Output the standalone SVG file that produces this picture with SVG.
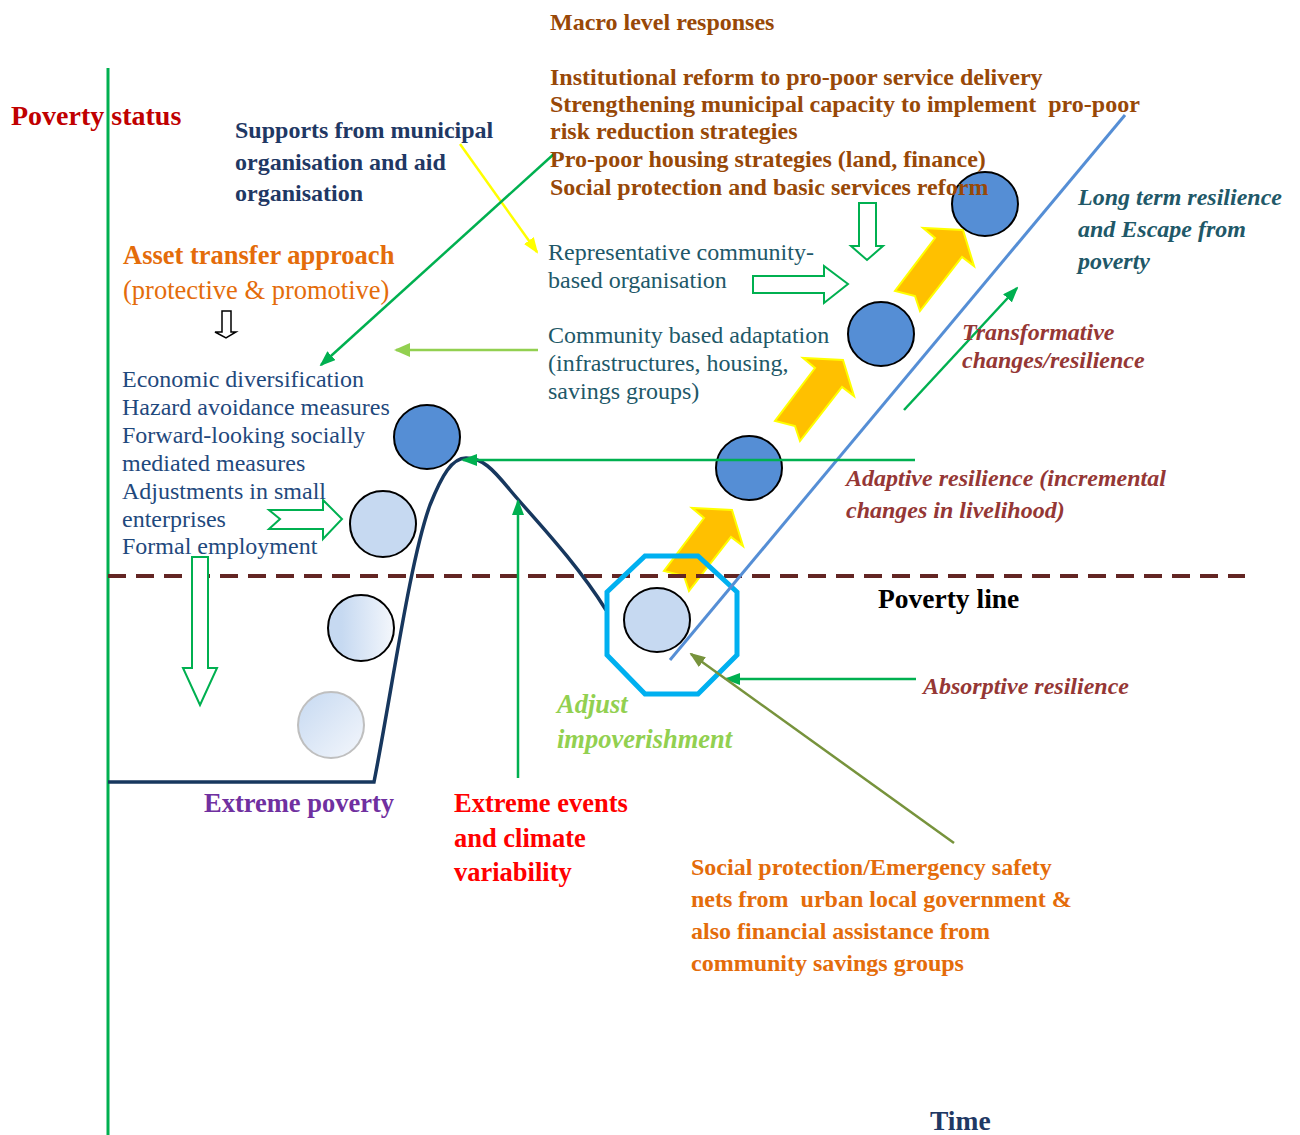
<svg xmlns="http://www.w3.org/2000/svg" width="1300" height="1135" viewBox="0 0 1300 1135">
  <style>
    text { font-family: "Liberation Serif", "Times New Roman", serif; }
    .b { font-weight: bold; }
    .bi { font-weight: bold; font-style: italic; }
    .s24 { font-size: 24px; }
    .s26 { font-size: 26.5px; }
    .macro { fill: #984807; }
    .navy { fill: #1F3864; }
    .orange { fill: #E46C0A; }
    .list { fill: #1F497D; }
    .teal { fill: #215868; }
    .maroon { fill: #953735; }
    .ball { stroke: #000; stroke-width: 2; }
    .dark { fill: #558ED5; }
    .light { fill: #C6D9F1; }
    .hollow { fill: #fff; stroke: #00B050; stroke-width: 2; stroke-linejoin: miter; }
    .con { fill: none; stroke-width: 2.5; }
    .g { stroke: #00B050; }
  </style>
  <defs>
    <linearGradient id="fadeH" x1="0" y1="0" x2="1" y2="0">
      <stop offset="0.2" stop-color="#C6D9F1"/>
      <stop offset="1" stop-color="#F4F7FC"/>
    </linearGradient>
    <linearGradient id="fadeD" x1="0" y1="0" x2="1" y2="1">
      <stop offset="0" stop-color="#C6D9F1"/>
      <stop offset="1" stop-color="#F4F7FC"/>
    </linearGradient>
    <path id="stepArrow" d="M0,0 L11,36 L-1,27 L-43,81 L-48,66 L-68,61 L-28,8 L-40,-2 Z" fill="#FFC000" stroke="#FFFF00" stroke-width="2" stroke-linejoin="miter"/>
    <marker id="mGreen" viewBox="0 0 16 12" refX="14" refY="6" markerWidth="16" markerHeight="12" markerUnits="userSpaceOnUse" orient="auto">
      <path d="M0,0 L16,6 L0,12 Z" fill="#00B050"/>
    </marker>
    <marker id="mLime" viewBox="0 0 16 14" refX="14" refY="7" markerWidth="16" markerHeight="14" markerUnits="userSpaceOnUse" orient="auto">
      <path d="M0,0 L16,7 L0,14 Z" fill="#92D050"/>
    </marker>
    <marker id="mYellow" viewBox="0 0 16 12" refX="14" refY="6" markerWidth="16" markerHeight="12" markerUnits="userSpaceOnUse" orient="auto">
      <path d="M0,0 L16,6 L0,12 Z" fill="#FFFF00"/>
    </marker>
    <marker id="mOlive" viewBox="0 0 16 12" refX="14" refY="6" markerWidth="16" markerHeight="12" markerUnits="userSpaceOnUse" orient="auto">
      <path d="M0,0 L16,6 L0,12 Z" fill="#77933C"/>
    </marker>
  </defs>

  <rect width="1300" height="1135" fill="#fff"/>

  <!-- poverty status axis -->
  <line x1="108" y1="68" x2="108" y2="1135" stroke="#00B050" stroke-width="3"/>

  <!-- progress steps towards resilience -->
  <g id="steps">
    <use href="#stepArrow" transform="translate(732,510)"/>
    <use href="#stepArrow" transform="translate(843,360)"/>
    <use href="#stepArrow" transform="translate(963,230)"/>
  </g>

  <!-- poverty line -->
  <line x1="108" y1="576" x2="1245" y2="576" stroke="#632523" stroke-width="4" stroke-dasharray="18 10"/>

  <!-- poverty trajectory -->
  <path id="trajectory" d="M108,782 H374 C392,690 410,560 430,505 C442,475 452,458 466,458 C482,458 492,468 510,490 S575,560 606,610" fill="none" stroke="#17375E" stroke-width="3.5"/>

  <!-- resilience pathway -->
  <g id="absorptive-zone">
    <polygon points="645,556 698,556 737,592 737,655 698,694 645,694 607,655 607,592" fill="none" stroke="#00B0F0" stroke-width="5"/>
  </g>
  <line id="pathway" x1="670" y1="660" x2="1125" y2="115" stroke="#558ED5" stroke-width="3"/>

  <!-- household states -->
  <g id="state-peak"><ellipse class="ball dark" cx="427" cy="437" rx="33" ry="32"/></g>
  <g id="state-above"><circle class="ball light" cx="383" cy="524" r="33"/></g>
  <g id="state-below"><circle class="ball" cx="361" cy="628" r="33" fill="url(#fadeH)"/></g>
  <g id="state-extreme"><circle cx="331" cy="725" r="33" fill="url(#fadeD)" stroke="#BFBFBF" stroke-width="2"/></g>
  <g id="state-shock"><ellipse class="ball light" cx="657" cy="620" rx="33" ry="32"/></g>
  <g id="state-adaptive"><ellipse class="ball dark" cx="749" cy="468" rx="33" ry="32"/></g>
  <g id="state-transform"><ellipse class="ball dark" cx="881" cy="334" rx="33" ry="32"/></g>
  <g id="state-escape"><ellipse class="ball dark" cx="985" cy="204" rx="33" ry="32"/></g>

  <!-- block arrows -->
  <g id="block-arrows">
    <polygon class="hollow" points="859,203 876,203 876,246 883,246 867,260 851,246 859,246"/>
    <polygon class="hollow" points="753,276 824,276 824,266 848,284 824,303 824,293 753,293"/>
    <polygon class="hollow" points="269,510 323,510 323,500 342,519 323,539 323,529 269,529 280,519"/>
    <polygon class="hollow" points="192,557 208,557 208,668 217,668 200,705 183,668 192,668"/>
    <polygon points="222,311 231,311 231,332 236,332 226,338 215,332 222,332" fill="#fff" stroke="#000" stroke-width="1.5"/>
  </g>

  <!-- connectors -->
  <g id="connectors">
    <line class="con" x1="460" y1="144" x2="537" y2="252" stroke="#FFFF00" stroke-width="2" marker-end="url(#mYellow)"/>
    <line class="con g" x1="555" y1="153" x2="321" y2="365" marker-end="url(#mGreen)"/>
    <line class="con" x1="538" y1="350" x2="396" y2="350" stroke="#92D050" stroke-width="3" marker-end="url(#mLime)"/>
    <line class="con g" x1="915" y1="460" x2="463" y2="460" marker-end="url(#mGreen)"/>
    <line class="con g" x1="518" y1="778" x2="518" y2="501" marker-end="url(#mGreen)"/>
    <line class="con g" x1="904" y1="410" x2="1017" y2="288" marker-end="url(#mGreen)"/>
    <line class="con g" x1="916" y1="679" x2="726" y2="679" marker-end="url(#mGreen)"/>
    <line class="con" x1="954" y1="843" x2="691" y2="654" stroke="#77933C" marker-end="url(#mOlive)"/>
  </g>

  <!-- labels -->
  <g id="axis-label">
    <text class="b" x="11" y="125" font-size="28" fill="#C00000">Poverty status</text>
  </g>
  <g id="macro-responses">
    <text class="b s24 macro" x="550" y="30">Macro level responses</text>
    <text class="b s24 macro" x="550" y="85">Institutional reform to pro-poor service delivery</text>
    <text class="b s24 macro" x="550" y="112" xml:space="preserve">Strengthening municipal capacity to implement  pro-poor</text>
    <text class="b s24 macro" x="550" y="139">risk reduction strategies</text>
    <text class="b s24 macro" x="550" y="167">Pro-poor housing strategies (land, finance)</text>
    <text class="b s24 macro" x="550" y="195">Social protection and basic services reform</text>
  </g>
  <g id="municipal-support">
    <text class="b s24 navy" x="235" y="138">Supports from municipal</text>
    <text class="b s24 navy" x="235" y="170">organisation and aid</text>
    <text class="b s24 navy" x="235" y="201">organisation</text>
  </g>
  <g id="asset-transfer">
    <text class="b s26 orange" x="123" y="264">Asset transfer approach</text>
    <text class="s26 orange" x="123" y="299">(protective &amp; promotive)</text>
  </g>
  <g id="household-measures">
    <text class="s24 list" x="122" y="387">Economic diversification</text>
    <text class="s24 list" x="122" y="415">Hazard avoidance measures</text>
    <text class="s24 list" x="122" y="443">Forward-looking socially</text>
    <text class="s24 list" x="122" y="471">mediated measures</text>
    <text class="s24 list" x="122" y="499">Adjustments in small</text>
    <text class="s24 list" x="122" y="527">enterprises</text>
    <text class="s24 list" x="122" y="554">Formal employment</text>
  </g>
  <g id="community-organisation">
    <text class="s24 teal" x="548" y="260">Representative community-</text>
    <text class="s24 teal" x="548" y="288">based organisation</text>
  </g>
  <g id="community-adaptation">
    <text class="s24 teal" x="548" y="343">Community based adaptation</text>
    <text class="s24 teal" x="548" y="371">(infrastructures, housing,</text>
    <text class="s24 teal" x="548" y="399">savings groups)</text>
  </g>
  <g id="long-term">
    <text class="bi s24 teal" x="1078" y="205">Long term resilience</text>
    <text class="bi s24 teal" x="1078" y="237">and Escape from</text>
    <text class="bi s24 teal" x="1078" y="269">poverty</text>
  </g>
  <g id="transformative">
    <text class="bi s24 maroon" x="962" y="340">Transformative</text>
    <text class="bi s24 maroon" x="962" y="368">changes/resilience</text>
  </g>
  <g id="adaptive">
    <text class="bi s24 maroon" x="846" y="486">Adaptive resilience (incremental</text>
    <text class="bi s24 maroon" x="846" y="518">changes in livelihood)</text>
  </g>
  <g id="poverty-line-label">
    <text class="b" x="878" y="608" font-size="27.5" fill="#000">Poverty line</text>
  </g>
  <g id="absorptive">
    <text class="bi s24 maroon" x="923" y="694">Absorptive resilience</text>
  </g>
  <g id="adjust">
    <text class="bi s26" x="557" y="713" fill="#92D050">Adjust</text>
    <text class="bi s26" x="557" y="748" fill="#92D050">impoverishment</text>
  </g>
  <g id="extreme-poverty">
    <text class="b s26" x="204" y="812" fill="#7030A0">Extreme poverty</text>
  </g>
  <g id="extreme-events">
    <text class="b s26" x="454" y="812" fill="#FF0000">Extreme events</text>
    <text class="b s26" x="454" y="847" fill="#FF0000">and climate</text>
    <text class="b s26" x="454" y="881" fill="#FF0000">variability</text>
  </g>
  <g id="safety-nets">
    <text class="b s24 orange" x="691" y="875">Social protection/Emergency safety</text>
    <text class="b s24 orange" x="691" y="907" xml:space="preserve">nets from  urban local government &amp;</text>
    <text class="b s24 orange" x="691" y="939">also financial assistance from</text>
    <text class="b s24 orange" x="691" y="971">community savings groups</text>
  </g>
  <g id="time-label">
    <text class="b navy" x="930" y="1130" font-size="27.5">Time</text>
  </g>
</svg>
